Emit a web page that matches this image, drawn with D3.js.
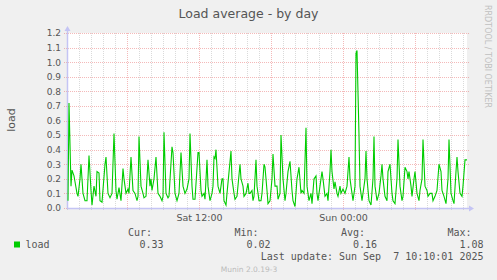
<!DOCTYPE html>
<html>
<head>
<meta charset="utf-8">
<script src="https://cdn.jsdelivr.net/npm/d3@7"></script>
<style>
  html, body { margin:0; padding:0; background:#f0f0f0; }
  text { font-family: "DejaVu Sans", sans-serif; }
  .mono { font-family: "DejaVu Sans Mono", monospace; white-space: pre; }
</style>
</head>
<body>
<div id="chart"></div>
<script>
// sample index = number of 5-minute steps after the start of the graph
const sampleIdx = [1,2,4,5,7,8,10,11,13,14,16,18,20,22,24,25,27,29,30,32,33,35,38,39,41,43,45,47,49,50,
  52,54,56,57,59,61,62,64,66,68,70,71,72,74,76,77,79,81,83,84,85,87,89,91,93,95,96,97,99,101,
  102,105,106,108,110,112,114,116,118,120,122,123,125,126,128,131,132,134,135,137,138,140,141,143,145,146,147,148,149,151,
  153,155,156,157,159,160,164,165,167,168,170,173,174,176,177,179,181,182,183,185,186,187,189,190,192,194,195,197,198,200,
  201,203,205,206,208,210,211,213,214,216,218,219,221,223,225,226,228,230,232,234,235,237,239,240,242,244,245,247,249,250,
  251,253,255,256,258,260,261,263,264,265,267,268,270,271,273,274,276,278,280,282,283,285,286,288,289,290,292,293,295,296,
  298,299,300,302,304,306,307,308,310,312,314,315,316,318,320,321,323,325,326,328,330,331,333,335,336,338,340,341,342,344,
  345,347,348,350,352,353,355,356,358,360,361,363,365,366,368,370,372,374,375,377,379,381,382,384,386,387,389,390,391,393,
  395,396,398,400];
const loadValues = [0.05,0.72,0.15,0.26,0.22,0.18,0.10,0.08,0.20,0.30,0.10,0.05,0.05,0.36,0.12,0.02,0.15,0.08,0.25,0.24,0.05,0.04,0.30,0.35,0.10,0.07,0.10,0.51,0.12,0.06,
  0.14,0.05,0.27,0.20,0.10,0.13,0.10,0.35,0.12,0.10,0.05,0.08,0.49,0.15,0.10,0.07,0.08,0.33,0.15,0.20,0.12,0.20,0.35,0.10,0.08,0.05,0.08,0.52,0.10,0.07,
  0.08,0.42,0.38,0.10,0.05,0.10,0.38,0.15,0.10,0.13,0.20,0.51,0.15,0.06,0.06,0.38,0.38,0.12,0.08,0.10,0.06,0.33,0.15,0.05,0.10,0.15,0.35,0.34,0.40,0.15,
  0.10,0.20,0.20,0.05,0.02,0.10,0.39,0.20,0.10,0.06,0.08,0.30,0.20,0.15,0.08,0.10,0.17,0.10,0.10,0.12,0.05,0.08,0.33,0.15,0.05,0.05,0.10,0.30,0.28,0.12,
  0.03,0.05,0.20,0.37,0.15,0.15,0.06,0.10,0.50,0.20,0.05,0.10,0.25,0.32,0.12,0.05,0.01,0.20,0.28,0.10,0.12,0.10,0.55,0.15,0.05,0.10,0.03,0.20,0.22,0.10,
  0.05,0.15,0.25,0.20,0.08,0.10,0.05,0.25,0.40,0.25,0.13,0.18,0.10,0.08,0.15,0.10,0.13,0.10,0.15,0.35,0.20,0.10,0.05,0.15,1.06,1.08,0.50,0.15,0.05,0.10,
  0.20,0.39,0.20,0.05,0.02,0.20,0.49,0.15,0.05,0.10,0.22,0.30,0.20,0.08,0.05,0.25,0.30,0.10,0.05,0.03,0.20,0.47,0.15,0.05,0.08,0.28,0.25,0.20,0.25,0.15,
  0.08,0.20,0.25,0.10,0.05,0.12,0.20,0.47,0.15,0.12,0.08,0.10,0.10,0.05,0.08,0.12,0.30,0.25,0.12,0.08,0.03,0.20,0.47,0.10,0.05,0.03,0.25,0.35,0.25,0.10,
  0.08,0.15,0.33,0.33];

const yTicks = [0,0.1,0.2,0.3,0.4,0.5,0.6,0.7,0.8,0.9,1.0,1.1,1.2];
const legendHeads = ["Cur:","Min:","Avg:","Max:"];
const legendVals = ["0.33","0.02","0.16","1.08"];
const startTime = new Date(2025, 8, 6, 1, 0, 0);   // Sat 01:00
const stepMin = 5;

const data = sampleIdx.map((s,i) => ({
  t: new Date(startTime.getTime() + s*stepMin*60000),
  v: loadValues[i]
}));

const W = 497, H = 280;
const margin = {top:33, left:67},
      width = 400, height = 175;

const svg = d3.select("#chart").append("svg")
  .attr("width", W).attr("height", H);

svg.append("rect").attr("width",W).attr("height",H).attr("fill","#f0f0f0");

const g = svg.append("g")
  .attr("transform", `translate(${margin.left},${margin.top})`);

const x = d3.scaleTime()
  .domain([startTime, new Date(startTime.getTime() + 400*stepMin*60000)])
  .range([0, width]);
const y = d3.scaleLinear().domain([0, 1.2]).range([height, 0]);

g.append("rect").attr("width", width).attr("height", height).attr("fill", "#fff");

// =============================
// GRID
// =============================
const hours = x.ticks(d3.timeHour.every(1));
g.selectAll(".vgrid").data(hours).enter().append("line")
  .attr("x1", d => Math.round(x(d)) + 0.5).attr("x2", d => Math.round(x(d)) + 0.5)
  .attr("y1", 0).attr("y2", height + 3)
  .attr("stroke", d => d.getHours() % 6 === 0 ? "rgba(225,70,70,0.38)" : "rgba(140,140,140,0.32)")
  .attr("stroke-dasharray", "1,1");

g.selectAll(".hgrid").data(yTicks).enter().append("line")
  .attr("x1", -3).attr("x2", width + 2)
  .attr("y1", d => Math.round(y(d)) + 0.5).attr("y2", d => Math.round(y(d)) + 0.5)
  .attr("stroke", "rgba(225,70,70,0.38)")
  .attr("stroke-dasharray", "1,1");

// =============================
// AXES
// =============================
const yAxis = g.append("g")
  .call(d3.axisLeft(y).tickValues(yTicks).tickFormat(d3.format(".1f")).tickSize(0).tickPadding(6));
yAxis.select(".domain").remove();
yAxis.selectAll("text").attr("fill", "#555").style("font-size", "9px");

const xAxis = g.append("g")
  .attr("transform", `translate(0,${height})`)
  .call(d3.axisBottom(x)
    .tickValues(hours.filter(d => d.getHours() % 12 === 0))
    .tickFormat(d3.timeFormat("%a %H:%M")).tickSize(0).tickPadding(6));
xAxis.select(".domain").remove();
xAxis.selectAll("text").attr("fill", "#555").style("font-size", "9.5px");

const axisColor = "#c4c4f4";
g.append("line").attr("x1", 0.5).attr("x2", 0.5).attr("y1", -2).attr("y2", height + 1)
  .attr("stroke", axisColor).attr("stroke-width", 1.5);
g.append("line").attr("x1", 0).attr("x2", width + 3).attr("y1", height + 0.5).attr("y2", height + 0.5)
  .attr("stroke", axisColor).attr("stroke-width", 1.5);
g.append("path").attr("d", `M-2.5,-2 L3.5,-2 L0.5,-7 Z`).attr("fill", axisColor);
g.append("path").attr("d", `M${width+2},${height-2.5} L${width+2},${height+3.5} L${width+7},${height+0.5} Z`).attr("fill", axisColor);

// =============================
// LINE
// =============================
const line = d3.line().x(d => x(d.t)).y(d => y(d.v));
g.append("path").datum(data)
  .attr("fill", "none").attr("stroke", "#00cc00").attr("stroke-width", 1.1)
  .attr("d", line);

// =============================
// TEXTS
// =============================
svg.append("text").attr("x", 248.5).attr("y", 18).attr("text-anchor", "middle")
  .attr("fill", "#555").style("font-size", "12.5px").text("Load average - by day");

svg.append("text").attr("transform", "rotate(-90)")
  .attr("x", -120).attr("y", 15).attr("text-anchor", "middle")
  .attr("fill", "#555").style("font-size", "11px").text("load");

svg.append("text").attr("transform", "translate(485,5) rotate(90)")
  .attr("fill", "#c0c0c0").style("font-size", "8px").text("RRDTOOL / TOBI OETIKER");

// legend
const colX = [128, 234.5, 341, 447.5];
const valEnd = [163.5, 270.5, 377, 483.5];
legendHeads.forEach((h, i) => {
  svg.append("text").attr("class", "mono").attr("x", colX[i]).attr("y", 236)
    .attr("fill", "#555").style("font-size", "10px").text(h);
  svg.append("text").attr("class", "mono").attr("x", valEnd[i]).attr("y", 247.5)
    .attr("text-anchor", "end").attr("fill", "#555").style("font-size", "10px").text(legendVals[i]);
});
svg.append("rect").attr("x", 14).attr("y", 241.5).attr("width", 6).attr("height", 6).attr("fill", "#00cc00");
svg.append("text").attr("class", "mono").attr("x", 25.5).attr("y", 247.5)
  .attr("fill", "#555").style("font-size", "10px").text("load");
svg.append("text").attr("class", "mono").attr("x", 483.5).attr("y", 259.5)
  .attr("text-anchor", "end").attr("fill", "#555").style("font-size", "10px")
  .text("Last update: Sun Sep  7 10:10:01 2025");

svg.append("text").attr("x", 249).attr("y", 271.5).attr("text-anchor", "middle")
  .attr("fill", "#bbb").style("font-size", "7.5px").text("Munin 2.0.19-3");
</script>
</body>
</html>
